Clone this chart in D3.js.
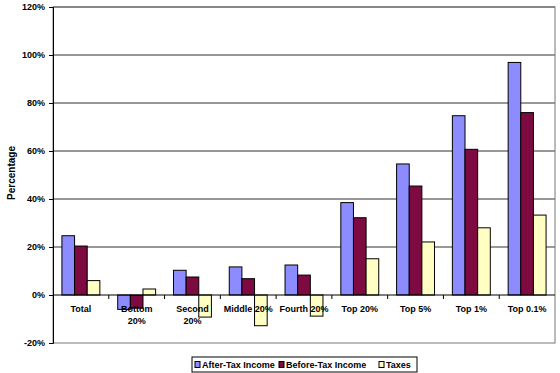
<!DOCTYPE html>
<html>
<head>
<meta charset="utf-8">
<script src="https://cdn.jsdelivr.net/npm/d3@7"></script>
<style>
  body { margin: 0; background: #fff; }
  svg text { font-family: "Liberation Sans", Arial, sans-serif; font-weight: bold; }
</style>
</head>
<body>
<svg id="chart"></svg>
<script>
// data
var categories = ["Total", "Bottom 20%", "Second 20%", "Middle 20%", "Fourth 20%", "Top 20%", "Top 5%", "Top 1%", "Top 0.1%"];
var afterTax  = [24.7, -6.0, 10.3, 11.7, 12.5, 38.5, 54.6, 74.7, 96.9];
var beforeTax = [20.4, -5.5, 7.5, 6.8, 8.3, 32.2, 45.4, 60.7, 76.0];
var taxes     = [6.0, 2.5, -9.2, -12.8, -8.8, 15.1, 22.1, 28.0, 33.3];
var seriesNames = ["After-Tax Income", "Before-Tax Income", "Taxes"];
var yTicks = [-20, 0, 20, 40, 60, 80, 100, 120];

var colors = ["#8c8cff", "#7d0a40", "#ffffc4"];
var series = [afterTax, beforeTax, taxes];

var W = 560, H = 373;
var margin = {top: 7, right: 5, bottom: 30, left: 53};
var width = W - margin.left - margin.right,
    height = H - margin.top - margin.bottom;

var svg = d3.select("#chart").attr("width", W).attr("height", H);

var chart = svg.append("g")
    .attr("transform", "translate(" + margin.left + "," + margin.top + ")");

var x = d3.scaleBand()
    .domain(categories)
    .range([0, width])
    .paddingInner(0.32)
    .paddingOuter(0.16);

var xSub = d3.scaleBand()
    .domain(seriesNames)
    .range([0, x.bandwidth()]);

var y = d3.scaleLinear()
    .domain([-20, 120])
    .range([height, 0]);

// gridlines
chart.selectAll(".grid")
    .data(yTicks.filter(function(d) { return d !== 0 && d !== -20; }))
  .enter().append("line")
    .attr("x1", 0).attr("x2", width)
    .attr("y1", function(d) { return y(d); })
    .attr("y2", function(d) { return y(d); })
    .attr("stroke", "#333").attr("stroke-width", 1);

// frame
chart.append("rect")
    .attr("x", 0).attr("y", 0)
    .attr("width", width).attr("height", height)
    .attr("fill", "none").attr("stroke", "#777").attr("stroke-width", 1);

// bars
series.forEach(function(vals, si) {
  chart.append("g").selectAll("rect")
      .data(vals)
    .enter().append("rect")
      .attr("x", function(d, i) { return x(categories[i]) + xSub(seriesNames[si]); })
      .attr("width", xSub.bandwidth())
      .attr("y", function(d) { return y(Math.max(0, d)); })
      .attr("height", function(d) { return Math.abs(y(d) - y(0)); })
      .attr("fill", colors[si])
      .attr("stroke", "#000").attr("stroke-width", 1);
});

// y axis
var yAxis = d3.axisLeft(y)
    .tickValues(yTicks)
    .tickSize(4)
    .tickFormat(function(d) { return d + "%"; });

var yg = chart.append("g").call(yAxis);
yg.select(".domain").attr("stroke", "#000");
yg.selectAll("line").attr("stroke", "#000");
yg.selectAll("text").attr("font-size", "9px").attr("fill", "#000").attr("dx", "-1");

// zero line with ticks between categories
chart.append("line")
    .attr("x1", 0).attr("x2", width)
    .attr("y1", y(0)).attr("y2", y(0))
    .attr("stroke", "#000");

var step = x.step();
chart.selectAll(".xtick")
    .data(d3.range(1, categories.length))
  .enter().append("line")
    .attr("x1", function(d) { return d * step; })
    .attr("x2", function(d) { return d * step; })
    .attr("y1", y(0)).attr("y2", y(0) + 4)
    .attr("stroke", "#000");

// category labels
var wrapped = {"Bottom 20%": ["Bottom", "20%"], "Second 20%": ["Second", "20%"]};
categories.forEach(function(c) {
  var lines = wrapped[c] || [c];
  var t = chart.append("text")
      .attr("x", x(c) + x.bandwidth() / 2)
      .attr("y", y(0) + 16.5)
      .attr("text-anchor", "middle")
      .attr("font-size", "9px")
      .attr("fill", "#000");
  lines.forEach(function(l, i) {
    t.append("tspan")
      .attr("x", x(c) + x.bandwidth() / 2)
      .attr("dy", i === 0 ? 0 : 12)
      .text(l);
  });
});

// y title
svg.append("text")
    .attr("transform", "translate(15,173) rotate(-90)")
    .attr("text-anchor", "middle")
    .attr("font-size", "10px")
    .attr("fill", "#000")
    .text("Percentage");

// legend
var legend = svg.append("g").attr("transform", "translate(192,357)");
legend.append("rect")
    .attr("width", 225).attr("height", 15)
    .attr("fill", "#fff").attr("stroke", "#000");
var lx = [3, 87, 187];
seriesNames.forEach(function(n, i) {
  legend.append("rect")
      .attr("x", lx[i]).attr("y", 4.5)
      .attr("width", 5).attr("height", 6)
      .attr("fill", colors[i]).attr("stroke", "#000");
  legend.append("text")
      .attr("x", lx[i] + 7).attr("y", 11)
      .attr("font-size", "9px")
      .attr("fill", "#000")
      .text(n);
});
</script>
</body>
</html>
